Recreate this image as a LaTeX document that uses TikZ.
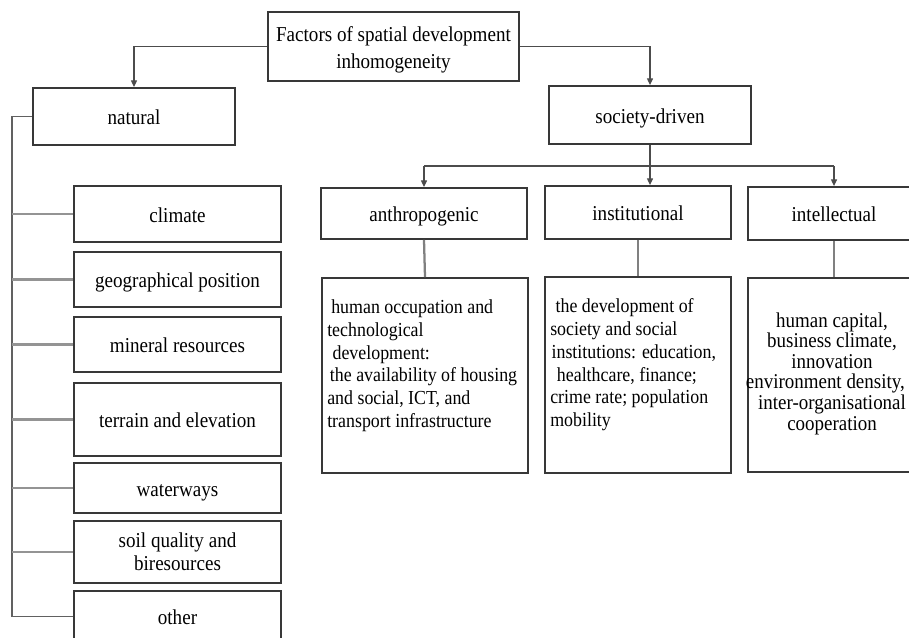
\documentclass[tikz,border=0pt]{standalone}
\usepackage{fontspec}
\setmainfont[FakeStretch=0.9]{Liberation Serif}
\usetikzlibrary{arrows.meta}
\begin{document}
\begin{tikzpicture}[x=0.75pt,y=-0.75pt,
 box/.style={draw=black!78,line width=1.4pt,fill=white,inner sep=0pt,align=center,font=\fontsize{15.9}{20.6}\selectfont},
 lbl/.style={box,text height=12.6pt,text depth=0pt},
 mtext/.style={font=\fontsize{15.9}{#1}\selectfont,align=center,inner sep=0pt,anchor=north},
 desc/.style={font=\fontsize{14.9}{17.1}\selectfont,align=left,inner sep=0pt,anchor=north west},
 idesc/.style={font=\fontsize{15.8}{15.4}\selectfont,align=center,inner sep=0pt,anchor=north},
 arr/.style={draw=black!70,line width=0.8pt,-{Triangle[length=5pt,width=4.5pt]}},
 bus/.style={draw=black!70,line width=0.8pt},
 tree/.style={draw=black!62,line width=1.1pt},
 twig/.style={draw=black!42,line width=1.7pt},
 link/.style={draw=black!50,line width=1.7pt}]
\useasboundingbox (0,0) rectangle (909,638);
\clip (0,0) rectangle (909,638);
% main boxes
\node[box,minimum width=188.25pt,minimum height=51.75pt] (top) at (393.5,46.5) {};
\node[mtext=20.6pt] (toptext) at (393.5,26) {Factors of spatial development\\inhomogeneity};
\node[lbl,minimum width=151.5pt,minimum height=42.75pt] (natural) at (134,116.5) {natural};
\node[lbl,minimum width=151.5pt,minimum height=43.5pt] (soc) at (650,115) {society-driven};
\node[lbl,minimum width=154.5pt,minimum height=38.25pt] (anth) at (424,213.5) {anthropogenic};
\node[lbl,minimum width=139.5pt,minimum height=39.75pt] (inst) at (638,212.5) {institutional};
\node[lbl,minimum width=129pt,minimum height=39.75pt] (intel) at (834,213.5) {intellectual};
% description boxes
\node[box,minimum width=154.5pt,minimum height=146.25pt] (anthd) at (425,375.5) {};
\node[box,minimum width=139.5pt,minimum height=147pt] (instd) at (638,375) {};
\node[box,minimum width=129pt,minimum height=145.5pt] (inteld) at (834,375) {};
\node[desc] (anthtext) at (327,299.5) {\hspace{3pt}human occupation and\\technological\\\hspace{4pt}development:\\\hspace{2pt}the availability of housing\\and social, ICT, and\\transport infrastructure};
\node[desc] (insttext) at (550,298.5) {\hspace{4pt}the development of\\society and social\\\hspace{1pt}institutions: education,\\\hspace{5pt}healthcare, finance;\\crime rate; population\\mobility};
\node[idesc] (inteltext) at (832,312.5) {human capital,\\business climate,\\innovation\\environment density,\kern10pt\\inter-organisational\\cooperation};
% natural sub-boxes
\node[lbl,minimum width=155.25pt,minimum height=42pt] (climate) at (177.5,214) {climate};
\node[lbl,minimum width=155.25pt,minimum height=41.25pt] (geo) at (177.5,279.5) {geographical position};
\node[lbl,minimum width=155.25pt,minimum height=41.25pt] (mineral) at (177.5,344.5) {mineral resources};
\node[lbl,minimum width=155.25pt,minimum height=54.75pt] (terrain) at (177.5,419.5) {terrain and elevation};
\node[lbl,minimum width=155.25pt,minimum height=37.5pt] (water) at (177.5,488) {waterways};
\node[box,minimum width=155.25pt,minimum height=46.5pt] (soil) at (177.5,552) {};
\node[mtext=17.25pt] (soiltext) at (177.5,532.5) {soil quality and\\biresources};
\node[lbl,minimum width=155.25pt,minimum height=38.25pt] (other) at (177.5,616.5) {other};
% connectors
\coordinate (trunk) at (12,0);
\coordinate (busy) at (0,166);
\draw[arr] (top.west) -| (natural.north);
\draw[arr] (top.east) -| (soc.north);
\draw[arr] (soc.south) -- (soc.south |- inst.north);
\draw[bus] (anth.north |- busy) -- (intel.north |- busy);
\draw[arr] (anth.north |- busy) -- (anth.north);
\draw[arr] (intel.north |- busy) -- (intel.north);
\draw[link] (anth.south) -- (anthd.north);
\draw[link] (inst.south) -- (instd.north);
\draw[link] (intel.south) -- (inteld.north);
\draw[tree] (natural.west) -- (natural.west -| trunk) -- (other.west -| trunk) -- (other.west);
\foreach \n in {climate,geo,mineral,terrain,water,soil}
  \draw[twig] (\n.west -| trunk) -- (\n.west);
\end{tikzpicture}
\end{document}
